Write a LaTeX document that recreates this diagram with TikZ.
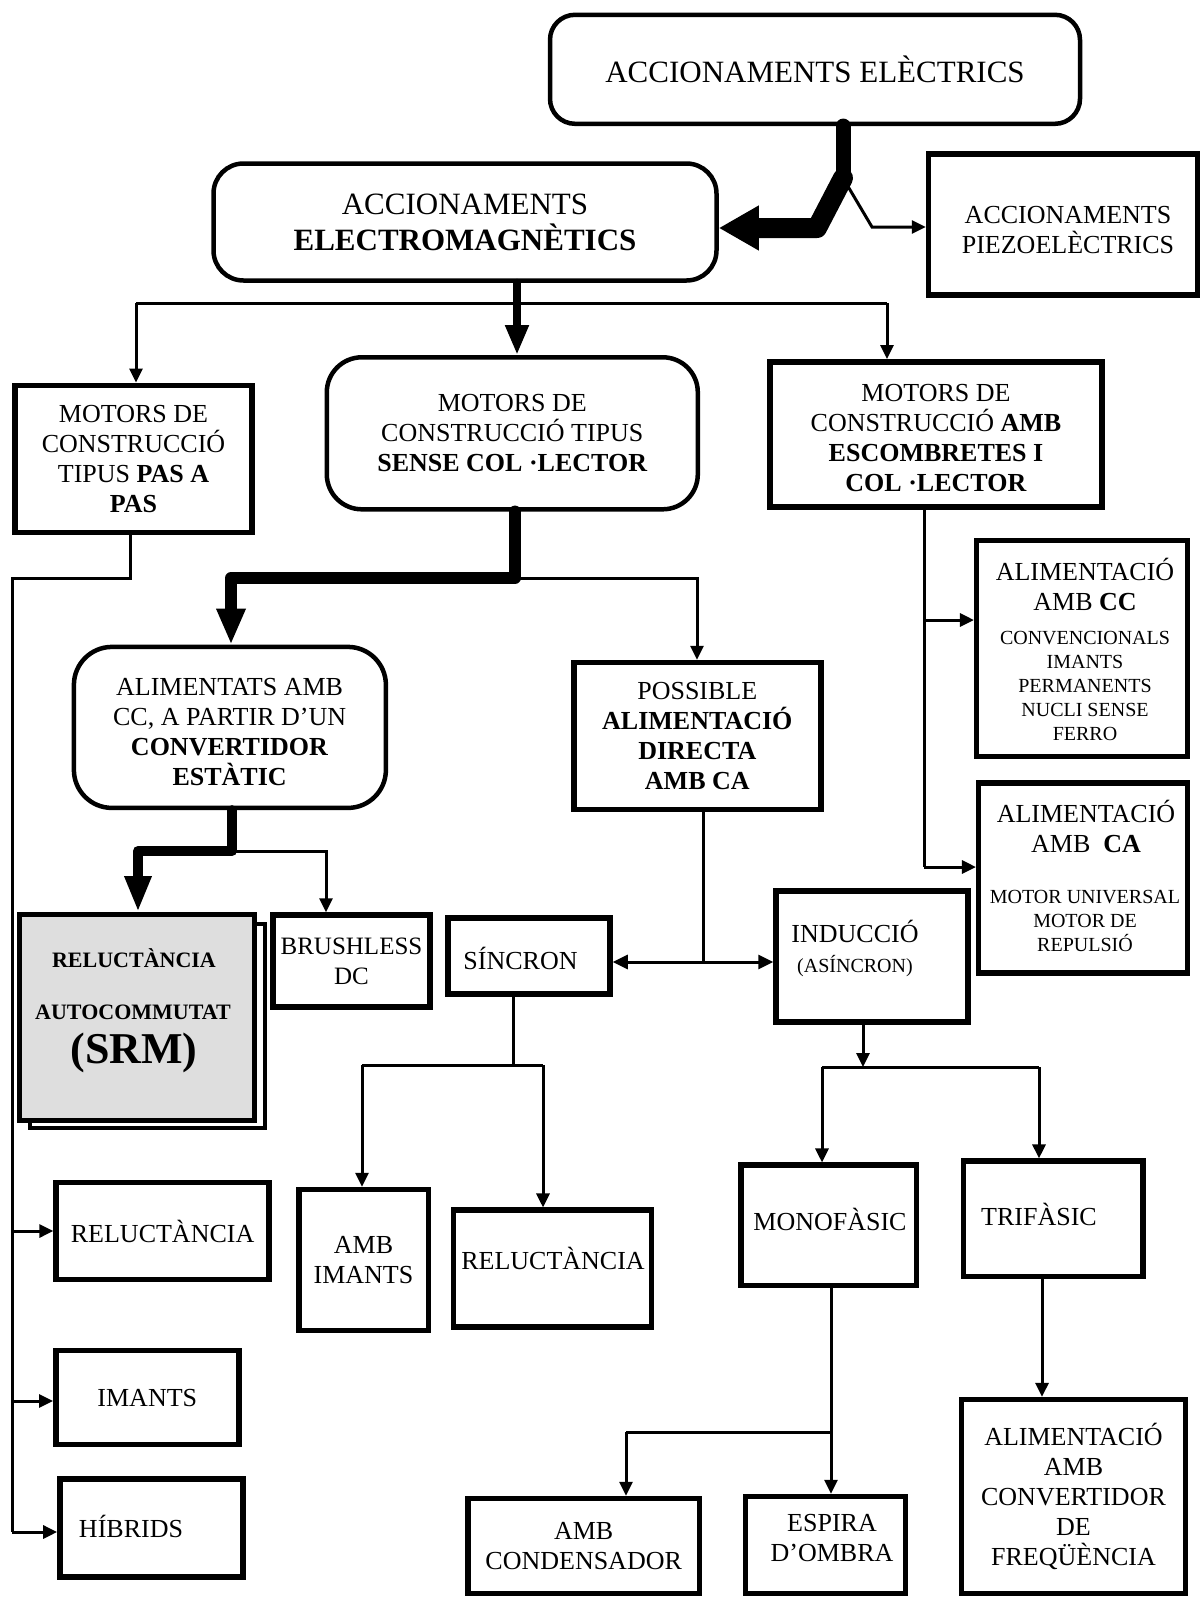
\documentclass[tikz,border=0pt]{standalone}
\usepackage{fontspec}
\setmainfont{Liberation Serif}
\usetikzlibrary{arrows.meta,calc}
\begin{document}
\begin{tikzpicture}[x=1pt,y=-1pt,
  basefont/.style={font=\fontsize{26}{30}\selectfont},
  smallfont/.style={font=\fontsize{20}{24}\selectfont},
  rbox/.style={draw, line width=4.5pt, rounded corners=#1, align=center, inner sep=0pt, basefont},
  rbox/.default=30pt,
  sbox/.style={draw, rectangle, line width=5.5pt, align=center, inner sep=0pt, basefont},
  conn/.style={line width=3pt},
  tarrow/.style={conn, -{Triangle[length=14pt,width=13pt]}},
  darrow/.style={conn, {Triangle[length=15pt,width=14pt]}-{Triangle[length=15pt,width=14pt]}},
  heavy/.style={line join=round, line cap=round},
  txt/.style={align=center, inner sep=0pt, basefont},
  srmfont/.style={align=center, inner sep=0pt, font=\fontsize{22}{26}\selectfont\bfseries}
]
\useasboundingbox (0,0) rectangle (1202,1598);
\fill[white] (0,0) rectangle (1202,1598);

% ---------- boxes ----------
\node[rbox=25pt, minimum width=530pt, minimum height=109pt, font=\fontsize{31}{36}\selectfont] (elec) at (815,69.3) {ACCIONAMENTS ELÈCTRICS};
\node[rbox=30pt, minimum width=503pt, minimum height=117pt, font=\fontsize{31}{36}\selectfont] (em) at (465,222) {ACCIONAMENTS\\\textbf{ELECTROMAGNÈTICS}};
\node[sbox, minimum width=269pt, minimum height=141pt] (piezo) at (1063,224.3) {};
\node[txt] (piezotxt) at (1068,230) {ACCIONAMENTS\\PIEZOELÈCTRICS};

\node[sbox, minimum width=237pt, minimum height=147pt] (pas) at (133.5,458.8) {MOTORS DE\\CONSTRUCCIÓ\\TIPUS \textbf{PAS A}\\\textbf{PAS}};
\node[rbox=35pt, minimum width=371pt, minimum height=152pt] (sense) at (512.3,433.3) {MOTORS DE\\CONSTRUCCIÓ TIPUS\\\textbf{SENSE COL ·LECTOR}};
\node[sbox, minimum width=332pt, minimum height=145pt] (esc) at (936,434.3) {};
\node[txt] (esctxt) at (936,438) {MOTORS DE\\CONSTRUCCIÓ \textbf{AMB}\\\textbf{ESCOMBRETES I}\\\textbf{COL ·LECTOR}};

\node[sbox, minimum width=211pt, minimum height=216pt] (cc) at (1082.2,648.4) {};
\node[txt] (cchead) at (1085,584) {ALIMENTACIÓ\\AMB \textbf{CC}};
\node[txt, smallfont] (cclist) at (1085,686) {CONVENCIONALS\\IMANTS\\PERMANENTS\\NUCLI SENSE\\FERRO};
\node[sbox, minimum width=209pt, minimum height=190pt] (ca) at (1083.2,877.8) {};
\node[txt] (cahead) at (1086,826) {ALIMENTACIÓ\\AMB~~\textbf{CA}};
\node[txt, smallfont] (calist) at (1085,920.5) {MOTOR UNIVERSAL\\MOTOR DE\\REPULSIÓ};

\node[rbox=38pt, minimum width=312pt, minimum height=161pt] (alim) at (229.9,727.4) {};
\node[txt] (alimtxt) at (229.6,732.5) {ALIMENTATS AMB\\CC, A PARTIR D’UN\\\textbf{CONVERTIDOR}\\\textbf{ESTÀTIC}};
\node[sbox, minimum width=247pt, minimum height=147pt] (poss) at (697.3,736) {POSSIBLE\\\textbf{ALIMENTACIÓ}\\\textbf{DIRECTA}\\\textbf{AMB CA}};

\node[draw, fill=white, line width=4pt, minimum width=235pt, minimum height=204pt, inner sep=0pt] (srmsh) at (147.5,1026) {};
\node[draw, fill=black!13, line width=5pt, minimum width=235pt, minimum height=206pt, inner sep=0pt] (srm) at (137,1017.5) {};
\node[srmfont] (srm1) at (134,958) {RELUCTÀNCIA};
\node[srmfont] (srm2) at (133,1012) {AUTOCOMMUTAT};
\node[srmfont, font=\fontsize{44}{48}\selectfont\bfseries] (srm3) at (134,1053) {(SRM)};

\node[sbox, minimum width=157pt, minimum height=92pt, font=\fontsize{25}{30}\selectfont] (bdc) at (351.5,961) {BRUSHLESS\\DC};
\node[sbox, minimum width=162pt, minimum height=76pt] (sinc) at (529,956) {};
\node[txt] (sinctxt) at (520.5,958) {SÍNCRON};
\node[sbox, minimum width=192pt, minimum height=131pt] (ind) at (872,956.5) {};
\node[txt] (indtxt) at (855,948) {INDUCCIÓ\\{\fontsize{20}{24}\selectfont (ASÍNCRON)}};

\node[sbox, minimum width=213pt, minimum height=97pt] (rel1) at (162.6,1231) {RELUCTÀNCIA};
\node[sbox, minimum width=183pt, minimum height=94pt] (ima) at (147.3,1397.7) {IMANTS};
\node[sbox, minimum width=183pt, minimum height=98pt] (hib) at (151.4,1528.2) {};
\node[txt] (hibtxt) at (131,1526) {HÍBRIDS};

\node[sbox, minimum width=129.5pt, minimum height=141pt] (ambim) at (363.5,1260) {AMB\\IMANTS};
\node[sbox, minimum width=198pt, minimum height=117pt] (rel2) at (552.6,1268.7) {};
\node[txt] (rel2txt) at (553,1258) {RELUCTÀNCIA};

\node[sbox, minimum width=175.5pt, minimum height=120.4pt] (mono) at (828.9,1225.4) {};
\node[txt] (monotxt) at (830,1219) {MONOFÀSIC};
\node[sbox, minimum width=179.5pt, minimum height=115.3pt] (tri) at (1053.2,1218.8) {};
\node[txt] (tritxt) at (1039,1214) {TRIFÀSIC};

\node[sbox, minimum width=231.5pt, minimum height=95pt] (cond) at (583.7,1546) {AMB\\CONDENSADOR};
\node[sbox, minimum width=160pt, minimum height=97pt] (esp) at (825.3,1545) {};
\node[txt] (esptxt) at (832,1538) {ESPIRA\\D’OMBRA};
\node[sbox, minimum width=224pt, minimum height=194pt] (conv) at (1073.5,1496.6) {ALIMENTACIÓ\\AMB\\CONVERTIDOR\\DE\\FREQÜÈNCIA};

% ---------- connectors ----------
\coordinate (j1) at (843,178);
\coordinate (k1) at (817,228);
\coordinate (k2) at (872,227);
\draw[heavy, line width=15pt] (elec.south -| j1) -- (j1);
\draw[heavy, line width=20pt, -{Triangle[length=40pt,width=42pt]}] (j1) -- (k1) -- (k1 -| em.east);
\draw[tarrow] (j1) -- (k2) -- (k2 -| piezo.west);

\coordinate (c2) at (517,303);
\coordinate (b1) at (136,303);
\coordinate (b2) at (887,303);
\draw[conn] (b1) -- (b2);
\draw[tarrow] (b1) -- (b1 |- pas.north);
\draw[tarrow] (b2) -- (b2 |- esc.north);
\draw[heavy, line width=8pt, -{Triangle[length=30pt,width=22pt]}] (c2 |- em.south) -- (c2 |- sense.north);

\coordinate (c3) at (515,578);
\coordinate (c4) at (231,578);
\coordinate (c5) at (697,578);
\draw[tarrow] (c3) -- (c5) -- (c5 |- poss.north);
\draw[heavy, line width=12pt, -{Triangle[length=36pt,width=27pt]}] (c3 |- sense.south) -- (c3) -- (c4) -- (c4 |- alim.north);

\coordinate (p1) at (130,578);
\coordinate (p2) at (12,578);
\coordinate (p3) at (12,1532);
\coordinate (p4) at (12,1231);
\coordinate (p5) at (12,1401);
\draw[conn] (p1 |- pas.south) -- (p1) -- (p2) -- (p3);
\draw[tarrow] (p3) -- (p3 -| hib.west);
\draw[tarrow] (p4) -- (p4 -| rel1.west);
\draw[tarrow] (p5) -- (p5 -| ima.west);

\coordinate (c6) at (232,851);
\coordinate (c7) at (138,851);
\coordinate (c8) at (326,851);
\draw[tarrow] (c6) -- (c8) -- (c8 |- bdc.north);
\draw[heavy, line width=10pt, -{Triangle[length=36pt,width=25pt]}] (c6 |- alim.south) -- (c6) -- (c7) -- (c7 |- srm.north);

\coordinate (c9) at (703,962);
\draw[conn] (c9 |- poss.south) -- (c9);
\draw[darrow] (c9 -| sinc.east) -- (c9 -| ind.west);

\coordinate (c10) at (513,1065);
\coordinate (c11) at (362,1065);
\coordinate (c12) at (543,1065);
\draw[conn] (c10 |- sinc.south) -- (c10);
\draw[conn] (c11) -- (c12);
\draw[tarrow] (c11) -- (c11 |- ambim.north);
\draw[tarrow] (c12) -- (c12 |- rel2.north);

\coordinate (c13) at (863,1067);
\coordinate (c14) at (822,1067);
\coordinate (c15) at (1039,1067);
\draw[conn] (c14) -- (c15);
\draw[tarrow] (c13 |- ind.south) -- (c13);
\draw[tarrow] (c14) -- (c14 |- mono.north);
\draw[tarrow] (c15) -- (c15 |- tri.north);

\coordinate (c16) at (924,620);
\coordinate (c17) at (924,867);
\draw[conn] (c16 |- esc.south) -- (c17);
\draw[tarrow] (c16) -- (c16 -| cc.west);
\draw[tarrow] (c17) -- (c17 -| ca.west);

\coordinate (c18) at (831,1432);
\coordinate (c19) at (626,1432);
\draw[tarrow] (c18 |- mono.south) -- (c18 |- esp.north);
\draw[conn] (c18) -- (c19);
\draw[tarrow] (c19) -- (c19 |- cond.north);

\coordinate (c20) at (1042,1300);
\draw[tarrow] (c20 |- tri.south) -- (c20 |- conv.north);
\end{tikzpicture}
\end{document}
